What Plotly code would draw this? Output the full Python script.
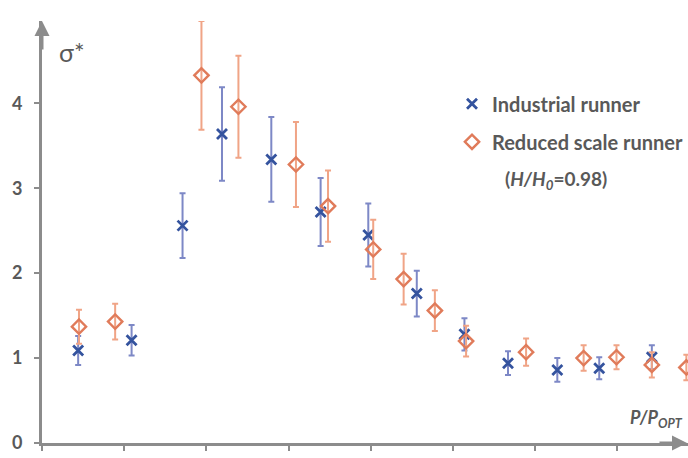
import plotly.graph_objects as go

# Data (x in axis-tick units; ticks unlabeled in reference)
ind_x = [0.44, 1.09, 1.71, 2.19, 2.79, 3.39, 3.97, 4.56, 5.14, 5.67, 6.27, 6.78, 7.42]
ind_y = [1.09, 1.21, 2.56, 3.64, 3.34, 2.72, 2.45, 1.76, 1.28, 0.94, 0.86, 0.88, 1.01]
ind_err = [0.17, 0.18, 0.38, 0.55, 0.50, 0.40, 0.37, 0.27, 0.19, 0.14, 0.14, 0.13, 0.14]

red_x = [0.45, 0.89, 1.94, 2.39, 3.09, 3.48, 4.03, 4.40, 4.78, 5.16, 5.89, 6.59, 6.99, 7.42, 7.84]
red_y = [1.37, 1.43, 4.33, 3.96, 3.28, 2.79, 2.28, 1.93, 1.56, 1.20, 1.07, 1.00, 1.01, 0.92, 0.89]
red_err = [0.20, 0.21, 0.64, 0.60, 0.50, 0.42, 0.35, 0.30, 0.24, 0.18, 0.16, 0.15, 0.14, 0.15, 0.15]

y_ticks = [0, 1, 2, 3, 4]

AX = "#8c8c8c"
TXT = "#595959"
FONT = "Lato"

fig = go.Figure()
fig.add_trace(go.Scatter(
    x=ind_x, y=ind_y, mode="markers", name="Industrial runner", legendgroup="a",
    marker=dict(symbol="x-thin", size=10, line=dict(width=2.8, color="#34539e"), color="#34539e"),
    error_y=dict(type="data", array=ind_err, color="#7d88c6", thickness=2, width=3),
))
fig.add_trace(go.Scatter(
    x=red_x, y=red_y, mode="markers", name="Reduced scale runner", legendgroup="b",
    marker=dict(symbol="diamond-open", size=11, line=dict(width=2.4, color="#e07b5a"), color="#e07b5a"),
    error_y=dict(type="data", array=red_err, color="#f0a486", thickness=2, width=3),
))

fig.update_layout(
    width=688, height=458,
    margin=dict(l=42, r=0, t=21, b=15),
    paper_bgcolor="white", plot_bgcolor="white",
    font=dict(family=FONT, color=TXT),
    showlegend=True,
    legend=dict(x=0.635, y=0.85, xanchor="left", yanchor="top",
                font=dict(family=FONT, size=20, color=TXT, weight="bold"),
                tracegroupgap=9, bgcolor="rgba(0,0,0,0)", itemwidth=30),
    xaxis=dict(range=[0, 7.86], showline=True, linecolor=AX, linewidth=3,
               ticks="outside", ticklen=5, tickwidth=2, tickcolor=AX,
               tick0=0, dtick=1, showticklabels=False, showgrid=False, zeroline=False),
    yaxis=dict(range=[0, 4.97], showline=True, linecolor=AX, linewidth=3,
               ticks="outside", ticklen=5, tickwidth=2, tickcolor=AX,
               tickvals=y_ticks, ticktext=[str(t) for t in y_ticks],
               tickfont=dict(family=FONT, size=18, color=TXT, weight="bold"),
               ticklabelstandoff=8, showgrid=False, zeroline=False),
)

# axis arrows
fig.add_annotation(x=0, y=1.0, xref="paper", yref="paper", text="", showarrow=True,
                   ax=0, ay=30, arrowhead=2, arrowsize=1, arrowwidth=3, arrowcolor=AX)
fig.add_annotation(x=1.0, y=0, xref="paper", yref="paper", text="", showarrow=True,
                   ax=-30, ay=0, arrowhead=2, arrowsize=1, arrowwidth=3, arrowcolor=AX)

fig.add_annotation(x=0.023, y=0.927, xref="paper", yref="paper", xanchor="left", yanchor="middle",
                   text="σ*", showarrow=False, font=dict(family=FONT, size=25, color=TXT))
fig.add_annotation(x=0.995, y=0.057, xref="paper", yref="paper", xanchor="right", yanchor="middle",
                   text="<b><i>P/P<sub>OPT</sub></i></b>", showarrow=False,
                   font=dict(family=FONT, size=18, color=TXT))
fig.add_annotation(x=0.714, y=0.623, xref="paper", yref="paper", xanchor="left", yanchor="middle",
                   text="<b>(<i>H/H<sub>0</sub></i>=0.98)</b>", showarrow=False,
                   font=dict(family=FONT, size=19, color=TXT))

fig.write_html("out.html")
